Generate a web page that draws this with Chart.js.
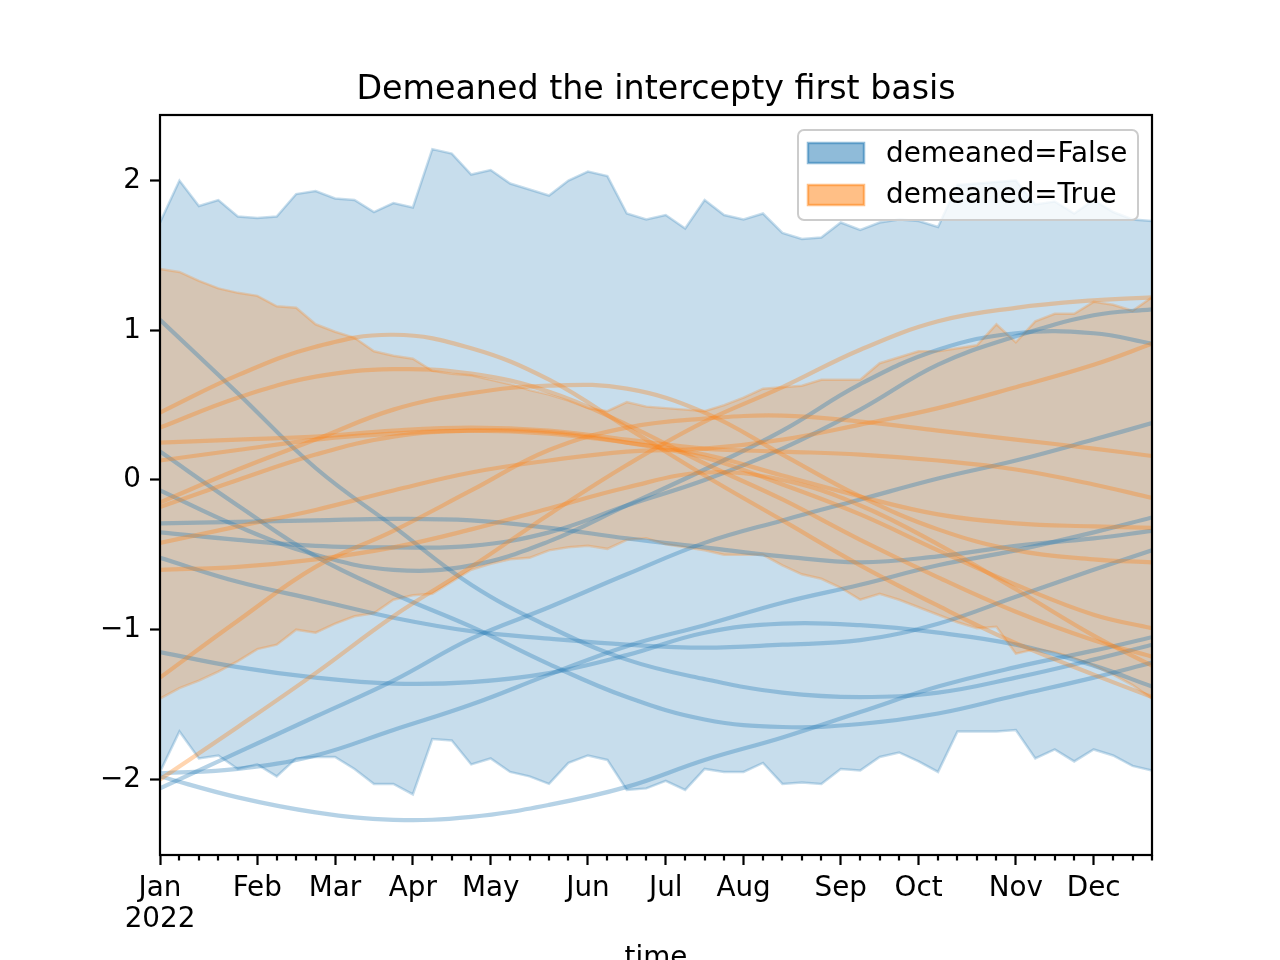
<!DOCTYPE html>
<html>
<head>
<meta charset="utf-8">
<title>Demeaned the intercepty first basis</title>
<script src="https://cdn.jsdelivr.net/npm/chart.js@4.4.1/dist/chart.umd.min.js"></script>
<style>
  html, body { margin: 0; padding: 0; background: #fff; }
  canvas { display: block; }
</style>
</head>
<body>
<canvas id="grafico" width="1280" height="960"></canvas>
<script>
// eixo x semanal: índice da semana 0..51, marcas nos meses
const monthWeeks = [0, 5, 9, 13, 17, 22, 26, 30, 35, 39, 44, 48];
const monthLabels = [["Jan", "2022"], "Feb", "Mar", "Apr", "May", "Jun", "Jul", "Aug", "Sep", "Oct", "Nov", "Dec"];
const yTicks = [-2, -1, 0, 1, 2];

// faixas (uma por semana)
const blueHi = [1.72, 2.00, 1.83, 1.87, 1.76, 1.75, 1.76, 1.91, 1.93, 1.88, 1.87, 1.79, 1.85, 1.82, 2.21, 2.18, 2.04, 2.07, 1.98, 1.94, 1.90, 2.00, 2.06, 2.03, 1.78, 1.74, 1.77, 1.68, 1.87, 1.77, 1.74, 1.78, 1.65, 1.61, 1.62, 1.72, 1.67, 1.72, 1.74, 1.73, 1.69, 1.97, 1.98, 1.99, 2.00, 1.84, 1.86, 1.78, 1.87, 1.79, 1.74, 1.73];
const blueLo = [-1.95, -1.68, -1.86, -1.84, -1.93, -1.90, -1.98, -1.86, -1.85, -1.85, -1.93, -2.03, -2.03, -2.10, -1.73, -1.74, -1.90, -1.86, -1.95, -1.98, -2.03, -1.89, -1.84, -1.87, -2.07, -2.06, -2.01, -2.07, -1.93, -1.95, -1.95, -1.89, -2.03, -2.02, -2.03, -1.93, -1.94, -1.85, -1.82, -1.88, -1.95, -1.68, -1.68, -1.68, -1.67, -1.86, -1.80, -1.88, -1.80, -1.84, -1.91, -1.94];
const orangeHi = [1.41, 1.39, 1.33, 1.28, 1.25, 1.23, 1.16, 1.15, 1.04, 0.99, 0.95, 0.86, 0.83, 0.81, 0.73, 0.71, 0.70, 0.67, 0.64, 0.60, 0.57, 0.53, 0.48, 0.46, 0.52, 0.49, 0.48, 0.47, 0.46, 0.50, 0.55, 0.61, 0.62, 0.63, 0.67, 0.67, 0.67, 0.78, 0.82, 0.86, 0.86, 0.88, 0.90, 1.04, 0.92, 1.06, 1.11, 1.11, 1.19, 1.17, 1.13, 1.22];
const orangeLo = [-1.46, -1.39, -1.34, -1.28, -1.21, -1.13, -1.10, -1.00, -1.02, -0.96, -0.91, -0.89, -0.80, -0.77, -0.76, -0.68, -0.60, -0.56, -0.53, -0.52, -0.47, -0.45, -0.44, -0.46, -0.40, -0.39, -0.43, -0.45, -0.47, -0.50, -0.50, -0.50, -0.57, -0.63, -0.66, -0.72, -0.80, -0.76, -0.80, -0.85, -0.90, -0.95, -0.99, -0.98, -1.16, -1.13, -1.15, -1.19, -1.24, -1.30, -1.37, -1.46];

// curvas: valores nas semanas abaixo
const lineWeeks = [0, 4, 8, 12, 16, 20, 24, 28, 32, 36, 40, 44, 48, 51];

const blueLines = [
    [1.07, 0.58, 0.08, -0.31, -0.70, -0.98, -1.20, -1.33, -1.42, -1.45, -1.42, -1.32, -1.20, -1.10],
    [0.19, -0.17, -0.51, -0.76, -0.98, -1.23, -1.45, -1.60, -1.65, -1.63, -1.56, -1.44, -1.32, -1.22],
    [-0.07, -0.31, -0.50, -0.60, -0.57, -0.41, -0.17, 0.07, 0.33, 0.64, 0.87, 0.98, 0.98, 0.91],
    [-0.29, -0.28, -0.27, -0.26, -0.27, -0.32, -0.39, -0.45, -0.51, -0.55, -0.51, -0.44, -0.39, -0.34],
    [-0.35, -0.40, -0.44, -0.45, -0.44, -0.35, -0.17, 0.00, 0.21, 0.47, 0.77, 0.96, 1.10, 1.14],
    [-0.52, -0.68, -0.80, -0.92, -1.01, -1.06, -1.10, -1.12, -1.10, -1.07, -0.96, -0.78, -0.60, -0.47],
    [-1.15, -1.25, -1.32, -1.36, -1.35, -1.29, -1.17, -1.02, -0.96, -0.97, -1.02, -1.10, -1.24, -1.38],
    [-1.96, -1.93, -1.84, -1.67, -1.50, -1.30, -1.11, -0.97, -0.82, -0.70, -0.57, -0.47, -0.35, -0.25],
    [-1.98, -2.12, -2.22, -2.27, -2.25, -2.17, -2.05, -1.87, -1.72, -1.55, -1.38, -1.25, -1.14, -1.05],
    [-2.06, -1.82, -1.58, -1.34, -1.06, -0.85, -0.63, -0.42, -0.27, -0.13, 0.01, 0.13, 0.27, 0.38]
];

const orangeLines = [
    [0.45, 0.70, 0.89, 0.97, 0.88, 0.67, 0.35, 0.03, -0.27, -0.57, -0.84, -1.09, -1.30, -1.45],
    [0.35, 0.55, 0.69, 0.74, 0.71, 0.59, 0.37, 0.11, -0.13, -0.40, -0.65, -0.88, -1.07, -1.18],
    [0.25, 0.27, 0.29, 0.33, 0.35, 0.33, 0.27, 0.21, 0.19, 0.17, 0.13, 0.07, -0.03, -0.12],
    [0.13, 0.20, 0.27, 0.31, 0.33, 0.31, 0.25, 0.17, 0.03, -0.11, -0.23, -0.29, -0.31, -0.32],
    [-0.15, 0.07, 0.27, 0.47, 0.58, 0.63, 0.61, 0.45, 0.17, -0.11, -0.33, -0.47, -0.53, -0.55],
    [-0.18, 0.00, 0.17, 0.29, 0.33, 0.32, 0.25, 0.15, -0.03, -0.23, -0.47, -0.70, -0.90, -0.99],
    [-0.42, -0.31, -0.20, -0.07, 0.05, 0.13, 0.19, 0.21, 0.27, 0.37, 0.48, 0.62, 0.77, 0.91],
    [-0.60, -0.58, -0.53, -0.45, -0.33, -0.19, -0.05, 0.05, 0.00, -0.17, -0.43, -0.73, -1.04, -1.24],
    [-1.32, -0.94, -0.58, -0.34, -0.07, 0.20, 0.35, 0.41, 0.43, 0.39, 0.33, 0.27, 0.21, 0.16],
    [-2.00, -1.65, -1.29, -0.91, -0.58, -0.23, 0.10, 0.39, 0.62, 0.87, 1.06, 1.15, 1.20, 1.22]
];

const FONT = "DejaVu Sans";
const BLUE_BAND = "rgba(31, 119, 180, 0.25)";
const ORANGE_BAND = "rgba(255, 127, 14, 0.25)";
const BLUE_LINE = "rgba(31, 119, 180, 0.33)";
const ORANGE_LINE = "rgba(255, 127, 14, 0.33)";

function semanal(valores) {
    return valores.map((v, i) => ({ x: i, y: v }));
}

function curva(valores) {
    return valores.map((v, i) => ({ x: lineWeeks[i], y: v }));
}

function faixa(valores, cor, fill, order) {
    return {
        data: semanal(valores),
        borderColor: cor,
        backgroundColor: cor,
        borderWidth: 2.5,
        fill: fill,
        pointRadius: 0,
        tension: 0,
        order: order
    };
}

function linha(valores, cor, order) {
    return {
        data: curva(valores),
        borderColor: cor,
        borderWidth: 4.2,
        fill: false,
        pointRadius: 0,
        tension: 0.4,
        order: order
    };
}

const datasets = [
    faixa(blueHi, BLUE_BAND, "+1", 100),
    faixa(blueLo, BLUE_BAND, false, 99),
    faixa(orangeHi, ORANGE_BAND, "+1", 90),
    faixa(orangeLo, ORANGE_BAND, false, 89)
];
blueLines.forEach(v => datasets.push(linha(v, BLUE_LINE, 50)));
orangeLines.forEach(v => datasets.push(linha(v, ORANGE_LINE, 40)));

// título, rótulo "time", moldura, marcas menores e legenda
const extras = {
    id: "extras",
    afterDraw(chart) {
        const ctx = chart.ctx;
        const a = chart.chartArea;
        const xs = chart.scales.x;
        ctx.save();

        ctx.strokeStyle = "#000";
        ctx.lineWidth = 2.2;
        ctx.beginPath();
        blueHi.forEach((_, w) => {
            if (monthWeeks.includes(w)) return;
            const px = Math.round(xs.getPixelForValue(w));
            ctx.moveTo(px, a.bottom);
            ctx.lineTo(px, a.bottom + 5.6);
        });
        ctx.stroke();
        ctx.strokeRect(a.left, a.top, a.right - a.left, a.bottom - a.top);

        ctx.fillStyle = "#000";
        ctx.textAlign = "center";
        ctx.textBaseline = "alphabetic";
        ctx.font = "33.3px '" + FONT + "'";
        ctx.fillText("Demeaned the intercepty first basis", (a.left + a.right) / 2, 99);
        ctx.font = "27.8px '" + FONT + "'";
        ctx.fillText("time", (a.left + a.right) / 2, 966);

        // legenda
        ctx.beginPath();
        ctx.roundRect(798, 130, 340, 90, 6);
        ctx.fillStyle = "rgba(255, 255, 255, 0.8)";
        ctx.fill();
        ctx.strokeStyle = "#cccccc";
        ctx.lineWidth = 2;
        ctx.stroke();

        const itens = [
            ["demeaned=False", "rgba(31, 119, 180, 0.5)", 143, 162],
            ["demeaned=True", "rgba(255, 127, 14, 0.5)", 185, 203]
        ];
        itens.forEach(([texto, cor, top, base]) => {
            ctx.fillStyle = cor;
            ctx.fillRect(808, top, 56, 20);
            ctx.strokeStyle = cor;
            ctx.lineWidth = 2.5;
            ctx.strokeRect(808, top, 56, 20);
            ctx.fillStyle = "#000";
            ctx.textAlign = "left";
            ctx.fillText(texto, 886, base);
        });
        ctx.restore();
    }
};

new Chart(document.getElementById("grafico"), {
    type: "line",
    data: { datasets: datasets },
    plugins: [extras],
    options: {
        responsive: false,
        devicePixelRatio: 1,
        animation: false,
        layout: { padding: { left: 0, right: 128, top: 115, bottom: 0 } },
        plugins: {
            legend: { display: false },
            title: { display: false },
            tooltip: { enabled: false }
        },
        scales: {
            x: {
                type: "linear",
                min: 0,
                max: 51,
                afterFit: s => { s.height = 105; },
                afterBuildTicks: s => { s.ticks = monthWeeks.map(v => ({ value: v })); },
                border: { display: false },
                grid: { drawOnChartArea: false, drawTicks: true, tickLength: 10, tickWidth: 2.2, tickColor: "#000" },
                ticks: {
                    color: "#000",
                    padding: 8,
                    maxRotation: 0,
                    autoSkip: false,
                    font: { family: FONT, size: 27.8, lineHeight: 1.12 },
                    callback: v => monthLabels[monthWeeks.indexOf(v)]
                }
            },
            y: {
                type: "linear",
                min: -2.505,
                max: 2.438,
                afterFit: s => { s.width = 160; },
                afterBuildTicks: s => { s.ticks = yTicks.map(v => ({ value: v })); },
                border: { display: false },
                grid: { drawOnChartArea: false, drawTicks: true, tickLength: 10, tickWidth: 2.2, tickColor: "#000" },
                ticks: {
                    color: "#000",
                    padding: 9,
                    font: { family: FONT, size: 27.8 },
                    callback: v => (v < 0 ? "\u2212" + Math.abs(v) : String(v))
                }
            }
        }
    }
});
</script>
</body>
</html>
